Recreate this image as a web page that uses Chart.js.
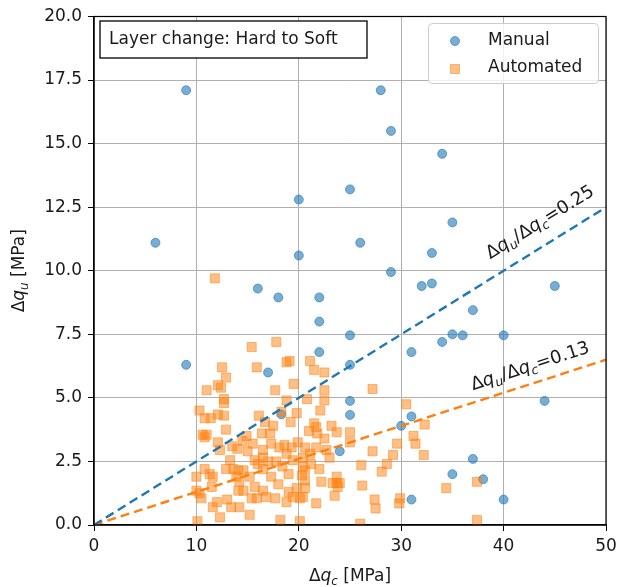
<!DOCTYPE html>
<html>
<head>
<meta charset="utf-8">
<script src="https://cdn.jsdelivr.net/npm/chart.js@4"></script>
<style>
  html, body { margin: 0; padding: 0; background: #fff; }
  #wrap { width: 617px; height: 587px; }
</style>
</head>
<body>
<div id="wrap"><canvas id="chart" width="617" height="587"></canvas></div>
<script>
// values
const manualX = [9, 28, 29, 34, 25, 20, 35, 6, 26, 33, 20, 29, 32, 33, 45, 16, 18, 22, 37, 22, 25, 35, 36, 40, 34, 31, 22, 25, 9, 17, 25, 44, 25, 31, 18.3, 30, 24, 37, 35, 38, 31, 40];
const manualY = [17.1, 17.1, 15.5, 14.6, 13.2, 12.8, 11.9, 11.1, 11.1, 10.7, 10.6, 9.95, 9.4, 9.5, 9.4, 9.3, 8.95, 8.95, 8.45, 8.0, 7.46, 7.5, 7.46, 7.46, 7.2, 6.8, 6.8, 6.3, 6.3, 6.0, 4.88, 4.88, 4.33, 4.27, 4.35, 3.9, 2.9, 2.6, 2.0, 1.8, 1.0, 1.0];

const autoX = [11.8, 17.8, 15.4, 15.9, 12.5, 12.9, 19.1, 18.8, 21.1, 21.5, 22.5, 11.0, 12.1, 12.4, 12.7, 12.7, 17.7, 19.5, 22.5, 20.8,
  22.5, 22.1, 18.8, 10.3, 10.8, 11.4, 12.1, 12.7, 16.1, 18.3, 16.7, 19.2, 10.6, 11.0, 10.8, 12.9, 12.1, 14.9, 16.4, 17.2,
  17.3, 18.1, 18.6, 19.3, 19.9, 21.0, 21.7, 21.8, 23.2, 23.7, 25.0, 25.0, 16.5, 16.5, 13.5, 12.3, 13.3, 12.9, 13.6, 14.1,
  14.6, 15.7, 16.0, 16.5, 18.8, 19.4, 20.4, 21.1, 20.6, 21.7, 22.7, 23.0, 20.4, 20.3, 10.0, 10.0, 10.3, 10.5, 11.3, 11.6,
  13.9, 14.2, 14.6, 14.1, 15.2, 15.7, 16.5, 16.8, 15.4, 15.9, 17.3, 17.7, 19.8, 19.4, 20.1, 20.6, 20.6, 20.6, 20.4, 21.7,
  22.2, 23.7, 23.7, 23.5, 23.3, 23.8, 11.6, 12.3, 13.4, 14.2, 15.2, 18.2, 10.1, 20.1, 27.2, 30.5, 32.3, 31.2, 31.4, 29.6,
  27.2, 29.2, 28.6, 28.1, 32.2, 26.1, 26.2, 27.4, 27.5, 29.9, 29.8, 34.4, 37.4, 37.4, 24.0, 26.0,
  14.0, 15.0, 14.5, 15.5, 17.8, 18.4, 17.0, 19.0, 18.0, 19.0, 21.2, 22.0, 22.5, 21.5, 19.8, 17.5, 11.5, 12.0, 18.8, 10.8, 13.0];
const autoY = [9.7, 7.2, 7.0, 6.2, 6.2, 5.8, 6.45, 6.4, 6.45, 6.1, 6.0, 5.3, 5.5, 5.4, 4.95, 4.8, 5.3, 5.55, 5.3, 4.95,
  4.9, 4.5, 4.9, 4.5, 4.2, 4.2, 4.35, 4.3, 4.3, 4.45, 4.05, 4.05, 3.55, 3.55, 3.45, 3.75, 3.25, 3.5, 3.6, 3.6,
  3.2, 3.05, 3.15, 3.05, 3.25, 3.7, 3.85, 3.6, 3.9, 3.65, 3.65, 3.25, 2.95, 2.65, 3.1, 2.95, 2.55, 2.2, 2.2, 2.15,
  2.15, 2.55, 2.4, 2.2, 2.8, 2.55, 2.65, 2.8, 3.05, 3.05, 2.95, 2.65, 2.3, 1.95, 1.9, 1.35, 1.25, 1.05, 2.0, 1.9,
  1.9, 1.7, 1.35, 1.35, 1.9, 1.5, 1.35, 1.1, 1.05, 1.05, 1.9, 1.05, 1.45, 1.1, 1.05, 1.75, 2.15, 1.45, 1.1, 0.85,
  1.7, 1.9, 1.65, 1.15, 1.65, 1.5, 0.7, 0.3, 0.7, 0.7, 0.4, 0.2, 0.15, 0.15, 5.35, 4.75, 3.95, 3.5, 3.2, 3.2,
  2.9, 2.75, 2.4, 2.1, 2.75, 2.35, 1.55, 1.0, 0.65, 1.05, 0.85, 1.45, 1.7, 0.2, 1.65, 0.05,
  3.0, 2.9, 3.3, 3.2, 2.5, 2.3, 2.5, 2.0, 1.6, 1.3, 2.4, 2.2, 3.4, 4.0, 4.4, 3.9, 1.5, 0.9, 0.9, 2.2, 1.0];

// ratio lines dq_u/dq_c
const lineX = [0, 50];
const manualLineY = [0, 12.5];   // 0.25
const autoLineY = [0, 6.5];      // 0.13

const xTicks = [0, 10, 20, 30, 40, 50];
const yTicks = [0, 2.5, 5, 7.5, 10, 12.5, 15, 17.5, 20];

const BLUE = "31, 119, 180";
const ORANGE = "255, 127, 14";
const FONT = '"DejaVu Sans", sans-serif';

const pts = (xs, ys) => xs.map((x, i) => ({ x: x, y: ys[i] }));

// draws text made of segments (plain / italic / subscript) along a baseline
function richWidth(ctx, segs, size) {
  let w = 0;
  for (const s of segs) {
    ctx.font = (s.it ? "italic " : "") + (s.sub ? size * 0.7 : size) + "px " + FONT;
    w += ctx.measureText(s.t).width;
  }
  return w;
}
function drawRich(ctx, segs, size, x, y, angle, center) {
  ctx.save();
  ctx.translate(x, y);
  ctx.rotate(angle);
  let cx = center ? -richWidth(ctx, segs, size) / 2 : 0;
  ctx.textBaseline = "alphabetic";
  ctx.textAlign = "left";
  ctx.fillStyle = "#1a1a1a";
  for (const s of segs) {
    ctx.font = (s.it ? "italic " : "") + (s.sub ? size * 0.7 : size) + "px " + FONT;
    ctx.fillText(s.t, cx, s.sub ? size * 0.22 : 0);
    cx += ctx.measureText(s.t).width;
  }
  ctx.restore();
}

const ratioText = (val) => [
  { t: "Δ" }, { t: "q", it: true }, { t: "u", it: true, sub: true },
  { t: "/Δ" }, { t: "q", it: true }, { t: "c", it: true, sub: true },
  { t: "=" + val }
];

const extras = {
  id: "extras",
  afterDraw(chart) {
    const ctx = chart.ctx;
    const a = chart.chartArea;
    const xs = chart.scales.x, ys = chart.scales.y;

    // top and right spines
    ctx.save();
    ctx.strokeStyle = "#000";
    ctx.lineWidth = 1.2;
    ctx.strokeRect(a.left, a.top, a.right - a.left, a.bottom - a.top);
    ctx.restore();

    // line labels, rotated along each line
    const lab = (ly, val, tx, ty) => {
      const ang = Math.atan2(ys.getPixelForValue(ly[1]) - ys.getPixelForValue(ly[0]),
                             xs.getPixelForValue(lineX[1]) - xs.getPixelForValue(lineX[0]));
      drawRich(ctx, ratioText(val), 18, xs.getPixelForValue(tx), ys.getPixelForValue(ty), ang, false);
    };
    lab(manualLineY, "0.25", 38.7, 10.45);
    lab(autoLineY, "0.13", 37.0, 5.3);

    // text box
    ctx.save();
    ctx.fillStyle = "#fff";
    ctx.fillRect(100, 21, 267, 37);
    ctx.strokeStyle = "#000";
    ctx.lineWidth = 1.3;
    ctx.strokeRect(100, 21, 267, 37);
    ctx.fillStyle = "#1a1a1a";
    ctx.font = "17px " + FONT;
    ctx.textBaseline = "middle";
    ctx.fillText("Layer change: Hard to Soft", 109, 40);
    ctx.restore();

    // legend
    ctx.save();
    ctx.fillStyle = "rgba(255,255,255,0.8)";
    ctx.strokeStyle = "#cccccc";
    ctx.lineWidth = 1;
    ctx.beginPath();
    ctx.roundRect(428.5, 23.5, 170, 60, 4);
    ctx.fill();
    ctx.stroke();
    ctx.fillStyle = "rgba(" + BLUE + ",0.6)";
    ctx.strokeStyle = "rgba(" + BLUE + ",0.6)";
    ctx.beginPath();
    ctx.arc(455, 41, 4.5, 0, Math.PI * 2);
    ctx.fill();
    ctx.stroke();
    ctx.fillStyle = "rgba(" + ORANGE + ",0.5)";
    ctx.strokeStyle = "rgba(" + ORANGE + ",0.5)";
    ctx.fillRect(450.5, 64.5, 9, 9);
    ctx.strokeRect(450.5, 64.5, 9, 9);
    ctx.fillStyle = "#1a1a1a";
    ctx.font = "17px " + FONT;
    ctx.textBaseline = "middle";
    ctx.fillText("Manual", 488, 41);
    ctx.fillText("Automated", 488, 68);
    ctx.restore();

    // axis titles
    drawRich(ctx, [{ t: "Δ" }, { t: "q", it: true }, { t: "c", it: true, sub: true }, { t: " [MPa]" }],
      17, (a.left + a.right) / 2, 581, 0, true);
    drawRich(ctx, [{ t: "Δ" }, { t: "q", it: true }, { t: "u", it: true, sub: true }, { t: " [MPa]" }],
      17, 24, (a.top + a.bottom) / 2, -Math.PI / 2, true);
  }
};

document.addEventListener("DOMContentLoaded", () => {
  const ctx = document.getElementById("chart").getContext("2d");

  new Chart(ctx, {
    type: "scatter",
    data: {
      datasets: [
        {
          label: "Manual",
          data: pts(manualX, manualY),
          pointStyle: "circle",
          pointRadius: 4.5,
          backgroundColor: "rgba(" + BLUE + ",0.6)",
          borderColor: "rgba(" + BLUE + ",0.6)",
          borderWidth: 1,
          order: 3,
        },
        {
          label: "Automated",
          data: pts(autoX, autoY),
          pointStyle: "rect",
          pointRadius: 6.4,
          backgroundColor: "rgba(" + ORANGE + ",0.5)",
          borderColor: "rgba(" + ORANGE + ",0.5)",
          borderWidth: 1,
          order: 2,
        },
        {
          type: "line",
          label: "ratio manual",
          data: pts(lineX, manualLineY),
          borderColor: "rgb(" + BLUE + ")",
          borderWidth: 2.4,
          borderDash: [9, 5],
          pointRadius: 0,
          fill: false,
          order: 1,
        },
        {
          type: "line",
          label: "ratio automated",
          data: pts(lineX, autoLineY),
          borderColor: "rgb(" + ORANGE + ")",
          borderWidth: 2.4,
          borderDash: [9, 5],
          pointRadius: 0,
          fill: false,
          order: 1,
        },
      ],
    },
    options: {
      responsive: false,
      animation: false,
      layout: { padding: { top: 16.5, right: 11, left: 0, bottom: 0 } },
      plugins: {
        legend: { display: false },
        tooltip: { enabled: false },
      },
      scales: {
        x: {
          type: "linear",
          min: 0,
          max: 50,
          afterFit: (s) => { s.height = 62; s.paddingLeft = 0; s.paddingRight = 0; },
          afterBuildTicks: (s) => { s.ticks = xTicks.map((v) => ({ value: v })); },
          ticks: {
            padding: 5,
            color: "#1a1a1a",
            font: { family: FONT, size: 17 },
            maxRotation: 0,
            callback: (v) => String(v),
          },
          grid: { color: "#b0b0b0", lineWidth: 1, tickColor: "#000", tickLength: 6 },
          border: { display: true, color: "#000", width: 1.2 },
        },
        y: {
          type: "linear",
          min: 0,
          max: 20,
          afterFit: (s) => { s.width = 94; s.paddingTop = 0; s.paddingBottom = 0; },
          afterBuildTicks: (s) => { s.ticks = yTicks.map((v) => ({ value: v })); },
          ticks: {
            padding: 6,
            color: "#1a1a1a",
            font: { family: FONT, size: 17 },
            callback: (v) => Number(v).toFixed(1),
          },
          grid: { color: "#b0b0b0", lineWidth: 1, tickColor: "#000", tickLength: 6 },
          border: { display: true, color: "#000", width: 1.2 },
        },
      },
    },
    plugins: [extras],
  });
});
</script>
</body>
</html>
